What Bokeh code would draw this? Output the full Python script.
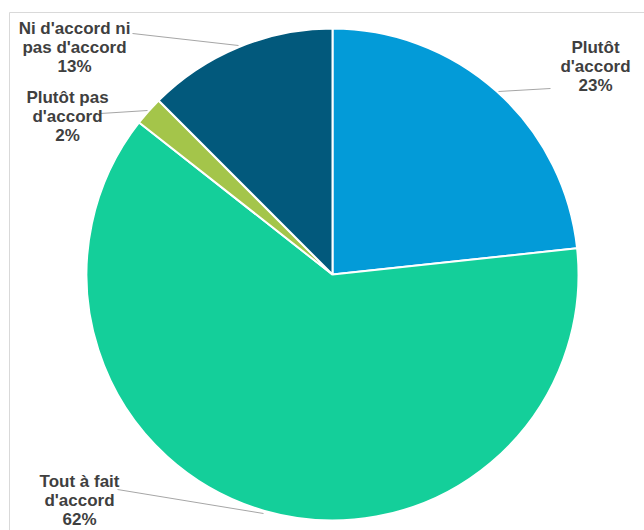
import numpy as np
from bokeh.plotting import figure
from bokeh.models import Range1d, ColumnDataSource
from bokeh.core.properties import value
from bokeh.embed import file_html
from bokeh.resources import INLINE

# ---- data (clockwise from 12 o'clock) ----
categories = ["Plutôt d'accord", "Tout à fait d'accord", "Plutôt pas d'accord", "Ni d'accord ni pas d'accord"]
shares = [23.3, 62.3, 1.9, 12.5]
pct_labels = ["23%", "62%", "2%", "13%"]
label_lines = [["Plutôt", "d'accord"], ["Tout à fait", "d'accord"], ["Plutôt pas", "d'accord"], ["Ni d'accord ni", "pas d'accord"]]
colors = ["#039BD8", "#14CF9A", "#A4C54A", "#02597C"]

# ---- layout (pixels, top-left origin inside the plot) ----
W, H = 644, 530
CX, CY, R = 332, 274, 246
label_pos = [(595, 47), (79, 481), (67, 97), (74, 28)]
line_gap = 19
leaders = [((498, 91), (550, 88)), ((117, 489), (263, 513)), ((100, 113), (147, 110)), ((132, 33), (238, 45))]

def fy(py):
    return H - py

p = figure(width=W, height=H, output_backend="svg", toolbar_location=None,
           x_range=Range1d(0, W), y_range=Range1d(0, H), min_border=0)
p.axis.visible = False
p.grid.visible = False
p.outline_line_color = None
p.background_fill_color = "white"
p.border_fill_color = "white"

# chart-area frame (top & left edges visible)
p.line([9, W], [fy(12), fy(12)], line_color="#D9D9D9", line_width=1)
p.line([9, 9], [fy(12), 0], line_color="#D9D9D9", line_width=1)

frac = np.array(shares) / np.sum(shares)
cum = np.concatenate([[0], np.cumsum(frac)])
starts = np.pi / 2 - 2 * np.pi * cum[1:]
ends = np.pi / 2 - 2 * np.pi * cum[:-1]
src = ColumnDataSource(dict(start=starts, end=ends, color=colors, cat=categories))
p.wedge(x=CX, y=fy(CY), radius=R, start_angle="start", end_angle="end",
        fill_color="color", line_color="white", line_width=2, source=src)

# leader lines
for (a, b) in leaders:
    p.line([a[0], b[0]], [fy(a[1]), fy(b[1])], line_color="#A6A6A6", line_width=1)

# labels
for lines, pct, (lx, ly) in zip(label_lines, pct_labels, label_pos):
    texts = lines + [pct]
    xs = [lx] * len(texts)
    ys = [fy(ly + i * line_gap) for i in range(len(texts))]
    p.text(x=xs, y=ys, text=texts, text_font=value("Liberation Sans"), text_font_style="bold",
           text_font_size="17px", text_color="#3F3F3F", text_align="center", text_baseline="middle")

open("out.html", "w").write(file_html(p, INLINE))
